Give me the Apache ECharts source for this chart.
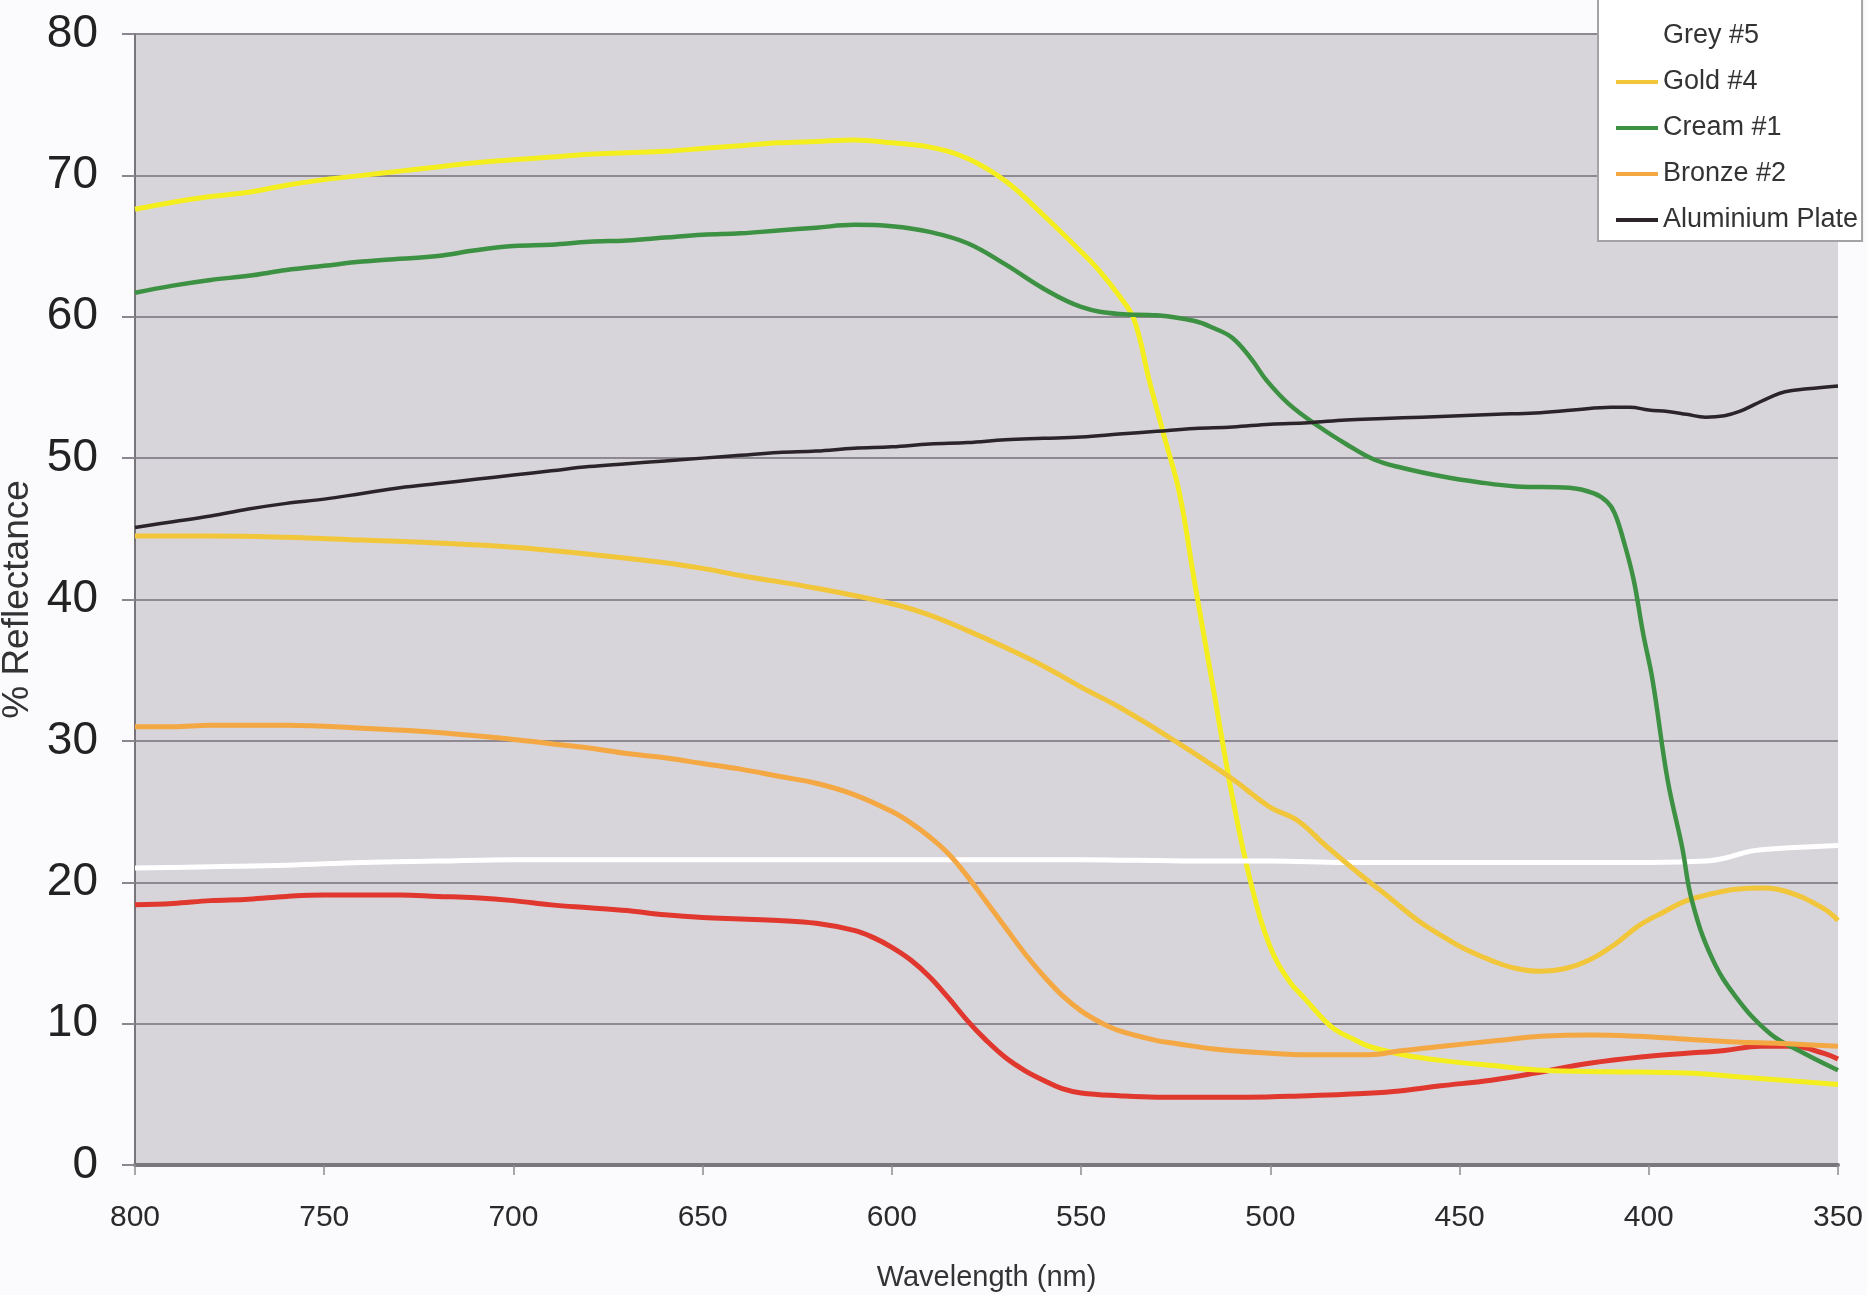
<!DOCTYPE html>
<html>
<head>
<meta charset="utf-8">
<title>% Reflectance vs Wavelength</title>
<script src="https://cdn.jsdelivr.net/npm/echarts@6/dist/echarts.min.js"></script>
<style>
  html, body { margin: 0; padding: 0; background: #fbfbfd; }
  #chart { width: 1867px; height: 1295px; }
</style>
</head>
<body>
<div id="chart"></div>
<script>
// Reflectance spectra: [wavelength nm, % reflectance]
const redSample = [[800,18.4],[790,18.5],[780,18.7],[770,18.8],[760,19.0],[750,19.1],[740,19.1],[730,19.1],[720,19.0],[710,18.9],[700,18.7],[690,18.4],[680,18.2],[670,18.0],[660,17.7],[650,17.5],[640,17.4],[630,17.3],[620,17.1],[610,16.6],[605,16.1],[600,15.4],[595,14.5],[590,13.3],[585,11.8],[580,10.2],[575,8.8],[570,7.6],[565,6.7],[560,6.0],[555,5.4],[550,5.1],[540,4.9],[530,4.8],[520,4.8],[506,4.8],[490,4.9],[480,5.0],[467.5,5.2],[455,5.6],[441.6,6.0],[430,6.5],[415.7,7.2],[400,7.7],[390,7.9],[380,8.1],[370.5,8.4],[362,8.4],[353.7,7.9],[350,7.5]];

const yellowSample = [[800,67.6],[790,68.1],[780,68.5],[770,68.8],[760,69.3],[750,69.7],[740,70.0],[730,70.3],[720,70.6],[710,70.9],[700,71.1],[690,71.3],[680,71.5],[670,71.6],[660,71.7],[650,71.9],[640,72.1],[630,72.3],[620,72.4],[610,72.5],[600,72.3],[590,72.0],[580,71.2],[570,69.6],[560,67.2],[550,64.6],[545,63.2],[540,61.5],[536,59.8],[532,55.5],[528,51.5],[524,47.5],[520,41.2],[515,33.6],[510,26.0],[505,19.8],[500,15.4],[495,13.0],[491,11.8],[487,10.6],[483,9.6],[478,8.9],[474,8.4],[465,7.8],[455,7.4],[440,7.0],[428,6.7],[410,6.6],[390,6.5],[370,6.1],[350,5.7]];

const grey5 = [[800,21.0],[780,21.1],[760,21.2],[740,21.4],[720,21.5],[700,21.6],[680,21.6],[650,21.6],[620,21.6],[600,21.6],[580,21.6],[550,21.6],[520,21.5],[500,21.5],[480,21.4],[450,21.4],[420,21.4],[400,21.4],[385,21.5],[380,21.7],[373,22.2],[365,22.4],[350,22.6]];

const gold4 = [[800,44.5],[780,44.5],[760,44.4],[740,44.2],[720,44.0],[700,43.7],[680,43.2],[660,42.6],[650,42.2],[640,41.7],[620,40.8],[600,39.7],[590,38.9],[580,37.8],[570,36.6],[560,35.3],[550,33.8],[540,32.4],[530,30.8],[520,29.1],[510,27.3],[500,25.3],[493,24.4],[485,22.5],[476.5,20.6],[468,18.8],[461,17.3],[454,16.1],[448,15.2],[441,14.4],[435,13.9],[428.6,13.7],[422,13.9],[415.7,14.5],[409,15.6],[402.8,16.9],[396,17.9],[390,18.7],[383,19.2],[377,19.5],[370,19.6],[366,19.5],[361,19.1],[357.6,18.7],[353,18.0],[350,17.3]];

const cream1 = [[800,61.7],[790,62.2],[780,62.6],[770,62.9],[760,63.3],[750,63.6],[740,63.9],[730,64.1],[720,64.3],[710,64.7],[700,65.0],[690,65.1],[680,65.3],[670,65.4],[660,65.6],[650,65.8],[640,65.9],[630,66.1],[620,66.3],[610,66.5],[600,66.4],[590,66.0],[580,65.2],[570,63.7],[560,62.0],[550,60.7],[540,60.2],[530,60.1],[520,59.7],[515,59.2],[510,58.5],[505,57.0],[501,55.5],[495,53.8],[487,52.2],[480,51.0],[472.6,49.9],[465,49.3],[454.5,48.7],[445,48.3],[435,48.0],[421,47.9],[414.5,47.5],[411,46.9],[409,46.1],[406.7,44.2],[404,41.4],[401.5,37.6],[399,34.3],[395,27.2],[391.2,22.5],[388.6,18.7],[383.4,14.7],[377,11.9],[368,9.3],[359,7.9],[350,6.7]];

const bronze2 = [[800,31.0],[790,31.0],[780,31.1],[760,31.1],[740,30.9],[720,30.6],[700,30.1],[690,29.8],[680,29.5],[670,29.1],[660,28.8],[650,28.4],[640,28.0],[630,27.5],[620,27.0],[610,26.2],[600,25.0],[595,24.2],[590,23.2],[585,22.0],[580,20.4],[575,18.6],[570,16.8],[565,15.0],[560,13.4],[555,12.0],[550,10.9],[545,10.1],[540,9.5],[530,8.8],[525,8.6],[515,8.2],[500,7.9],[490,7.8],[474,7.8],[465,8.1],[454.5,8.4],[440,8.8],[428.6,9.1],[415,9.2],[402.8,9.1],[390,8.9],[377,8.7],[365,8.6],[350,8.4]];

const aluminiumPlate = [[800,45.1],[790,45.5],[780,45.9],[770,46.4],[760,46.8],[750,47.1],[740,47.5],[730,47.9],[720,48.2],[710,48.5],[700,48.8],[690,49.1],[680,49.4],[670,49.6],[660,49.8],[650,50.0],[640,50.2],[630,50.4],[620,50.5],[610,50.7],[600,50.8],[590,51.0],[580,51.1],[570,51.3],[560,51.4],[550,51.5],[540,51.7],[530,51.9],[520,52.1],[510,52.2],[500,52.4],[490,52.5],[480,52.7],[470,52.8],[460,52.9],[450,53.0],[440,53.1],[430,53.2],[420,53.4],[410,53.6],[405,53.6],[400,53.4],[395,53.3],[390,53.1],[385,52.9],[380,53.0],[376,53.3],[372,53.8],[368,54.3],[364,54.7],[358,54.9],[350,55.1]];

const seriesNames = ['Red #6', 'Yellow #3', 'Grey #5', 'Gold #4', 'Cream #1', 'Bronze #2', 'Aluminium Plate'];
const seriesData = [redSample, yellowSample, grey5, gold4, cream1, bronze2, aluminiumPlate];
const seriesColors = ['#e0382e', '#f4ee1e', '#ffffff', '#f2c63a', '#3d9142', '#f4a843', '#2b2529'];
const seriesWidths = [5, 5, 5, 5, 4.5, 5, 3.5];

// Wavelength axis ticks (drawn right-to-left)
const wlMin = 350, wlMax = 800, wlStep = 50;
const pctMin = 0, pctMax = 80, pctStep = 10;

const sans = "'Liberation Sans', Arial, sans-serif";

const chart = echarts.init(document.getElementById('chart'), null, { renderer: 'canvas' });

chart.setOption({
  backgroundColor: '#fbfbfd',
  animation: false,
  grid: {
    left: 135, right: 29, top: 34, bottom: 130,
    containLabel: false,
    outerBoundsMode: 'none',
    show: true,
    backgroundColor: '#d7d4da',
    borderWidth: 0
  },
  legend: {
    data: seriesNames,
    orient: 'vertical',
    left: 1598,
    top: -77,
    padding: [6, 4, 6, 18],
    itemGap: 16,
    itemWidth: 42,
    itemHeight: 4,
    itemTextGap: 4,
    icon: 'rect',
    backgroundColor: '#ffffff',
    borderColor: '#a3a3a6',
    borderWidth: 2,
    borderRadius: 0,
    textStyle: { fontFamily: sans, fontSize: 27, lineHeight: 30, color: '#333333' }
  },
  xAxis: {
    type: 'value',
    inverse: true,
    min: wlMin, max: wlMax, interval: wlStep,
    name: 'Wavelength (nm)',
    nameLocation: 'middle',
    nameGap: 98,
    nameTextStyle: { fontFamily: sans, fontSize: 29, color: '#333333' },
    axisLine: { show: true, lineStyle: { color: '#7a767e', width: 4 } },
    axisTick: { show: true, length: 10, lineStyle: { color: '#8c8c90', width: 1.5 } },
    axisLabel: { fontFamily: sans, fontSize: 30, color: '#2a2a2a', margin: 38 },
    splitLine: { show: false }
  },
  yAxis: {
    type: 'value',
    min: pctMin, max: pctMax, interval: pctStep,
    name: '% Reflectance',
    nameLocation: 'middle',
    nameGap: 97,
    nameTextStyle: { fontFamily: sans, fontSize: 37, color: '#333333' },
    axisLine: { show: true, lineStyle: { color: '#78747c', width: 2 } },
    axisTick: { show: true, length: 13, lineStyle: { color: '#8b8690', width: 2 } },
    axisLabel: { fontFamily: sans, fontSize: 46, color: '#222222', margin: 37 },
    splitLine: { show: true, lineStyle: { color: '#8d8892', width: 2 } }
  },
  series: seriesNames.map((name, i) => ({
    name,
    type: 'line',
    data: seriesData[i],
    symbol: 'none',
    smooth: 0.4,
    clip: true,
    color: seriesColors[i],
    lineStyle: { color: seriesColors[i], width: seriesWidths[i] },
    z: 3 + i
  }))
});
</script>
</body>
</html>
